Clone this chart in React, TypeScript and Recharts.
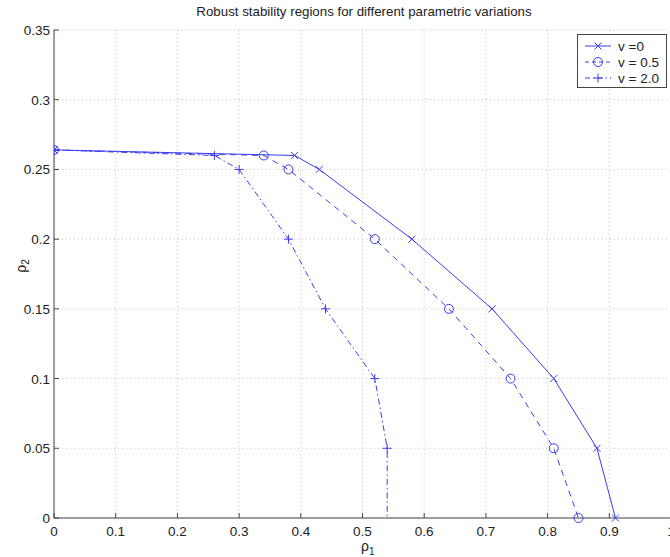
import React from 'react';
import { CartesianGrid, Line, LineChart, XAxis, YAxis } from 'recharts';

// rho_1 / rho_2 values
const rho1V0 = [0, 0.39, 0.43, 0.58, 0.71, 0.81, 0.88, 0.91];
const rho2V0 = [0.264, 0.26, 0.25, 0.2, 0.15, 0.1, 0.05, 0];

const rho1V05 = [0, 0.34, 0.38, 0.52, 0.64, 0.74, 0.81, 0.85];
const rho2V05 = [0.264, 0.26, 0.25, 0.2, 0.15, 0.1, 0.05, 0];

const rho1V2 = [0, 0.26, 0.3, 0.38, 0.44, 0.52, 0.54, 0.54];
const rho2V2 = [0.264, 0.26, 0.25, 0.2, 0.15, 0.1, 0.05, 0];

const xTicks = [0, 0.1, 0.2, 0.3, 0.4, 0.5, 0.6, 0.7, 0.8, 0.9, 1];
const yTicks = [0, 0.05, 0.1, 0.15, 0.2, 0.25, 0.3, 0.35];

const legendLabels = ['v =0', 'v = 0.5', 'v = 2.0'];

const BLUE = '#3c3cf0';
const AXIS = '#444';
const FONT = '"Liberation Sans", Arial, Helvetica, sans-serif';

const toPoints = (xs: number[], ys: number[]) => xs.map((x, i) => ({ x, y: ys[i] }));

type MarkerKind = 'x' | 'o' | '+';

function Marker({ kind, cx, cy }: { kind: MarkerKind; cx: number; cy: number }) {
  if (kind === 'o') return <circle cx={cx} cy={cy} r={4.5} fill="none" stroke={BLUE} strokeWidth={1} />;
  const s = kind === 'x' ? 3.5 : 4.5;
  if (kind === 'x')
    return (
      <g stroke={BLUE} strokeWidth={1}>
        <line x1={cx - s} y1={cy - s} x2={cx + s} y2={cy + s} />
        <line x1={cx - s} y1={cy + s} x2={cx + s} y2={cy - s} />
      </g>
    );
  return (
    <g stroke={BLUE} strokeWidth={1}>
      <line x1={cx - s} y1={cy} x2={cx + s} y2={cy} />
      <line x1={cx} y1={cy - s} x2={cx} y2={cy + s} />
    </g>
  );
}

const dotFor = (kind: MarkerKind, skipLast = false, count = 0) => (props: any) => {
  const { cx, cy, index } = props;
  if (skipLast && index === count - 1) return <g key={`d${kind}${index}`} />;
  return (
    <g key={`d${kind}${index}`}>
      <Marker kind={kind} cx={cx} cy={cy} />
    </g>
  );
};

const series = [
  { data: toPoints(rho1V0, rho2V0), kind: 'x' as MarkerKind, dash: undefined as string | undefined },
  { data: toPoints(rho1V05, rho2V05), kind: 'o' as MarkerKind, dash: '6 5' },
  { data: toPoints(rho1V2, rho2V2), kind: '+' as MarkerKind, dash: '6 3 1.5 3' },
];

const BottomTick = (props: any) => {
  const { x, y, payload } = props;
  return (
    <g>
      <line x1={x} y1={y} x2={x} y2={y - 5} stroke={AXIS} />
      <text x={x} y={y + 18} textAnchor="middle" fontSize={13.5} fontFamily={FONT} fill="#222">
        {payload.value}
      </text>
    </g>
  );
};

const TopTick = (props: any) => {
  const { x, y } = props;
  return <line x1={x} y1={y} x2={x} y2={y + 5} stroke={AXIS} />;
};

const LeftTick = (props: any) => {
  const { x, y, payload } = props;
  return (
    <g>
      <line x1={x} y1={y} x2={x + 5} y2={y} stroke={AXIS} />
      <text x={x - 4} y={y + 5} textAnchor="end" fontSize={13.5} fontFamily={FONT} fill="#222">
        {payload.value}
      </text>
    </g>
  );
};

function Legend() {
  return (
    <div
      style={{
        position: 'absolute',
        left: 577,
        top: 34,
        width: 88,
        height: 52,
        border: '1px solid #444',
        background: '#fff',
        fontFamily: FONT,
        fontSize: 13.5,
        color: '#222',
      }}
    >
      {series.map((s, i) => (
        <div key={i} style={{ position: 'absolute', left: 5, top: 3 + i * 16, height: 16, display: 'flex', alignItems: 'center' }}>
          <svg width={30} height={16}>
            <line x1={2} y1={8} x2={28} y2={8} stroke={BLUE} strokeDasharray={s.dash ? (i === 1 ? '4 3' : '5 3 1.5 3') : undefined} />
            <Marker kind={s.kind} cx={15} cy={8} />
          </svg>
          <span style={{ marginLeft: 5, whiteSpace: 'nowrap' }}>{legendLabels[i]}</span>
        </div>
      ))}
    </div>
  );
}

export default function App() {
  return (
    <div style={{ position: 'absolute', left: 0, top: 0, width: 670, height: 557, overflow: 'hidden', background: '#fff' }}>
      <div
        style={{
          position: 'absolute',
          left: 64,
          width: 600,
          top: 4,
          textAlign: 'center',
          fontFamily: FONT,
          fontSize: 13.3,
          color: '#222',
        }}
      >
        Robust stability regions for different parametric variations
      </div>
      <LineChart width={690} height={557} margin={{ top: 30, right: 19, bottom: 0, left: 0 }}>
        <CartesianGrid stroke="#c4c4c4" strokeDasharray="1 3" />
        <XAxis
          type="number"
          dataKey="x"
          domain={[0, 1]}
          ticks={xTicks}
          interval={0}
          height={39}
          tickSize={0}
          tickMargin={0}
          tickLine={false}
          stroke={AXIS}
          tick={<BottomTick />}
          allowDataOverflow
        />
        <XAxis
          xAxisId="top"
          orientation="top"
          type="number"
          dataKey="x"
          domain={[0, 1]}
          ticks={xTicks}
          interval={0}
          height={0}
          tickSize={0}
          tickMargin={0}
          tickLine={false}
          stroke={AXIS}
          tick={<TopTick />}
        />
        <YAxis
          type="number"
          domain={[0, 0.35]}
          ticks={yTicks}
          interval={0}
          width={54}
          tickSize={0}
          tickMargin={0}
          tickLine={false}
          stroke={AXIS}
          tick={<LeftTick />}
        />
        {series.map((s, i) => (
          <Line
            key={i}
            data={s.data}
            dataKey="y"
            type="linear"
            stroke={BLUE}
            strokeWidth={1}
            strokeDasharray={s.dash}
            dot={dotFor(s.kind, i === 2, s.data.length)}
            activeDot={false}
            isAnimationActive={false}
          />
        ))}
      </LineChart>
      <div
        style={{
          position: 'absolute',
          left: 361,
          top: 540,
          fontFamily: FONT,
          fontSize: 14,
          lineHeight: '13px',
          color: '#222',
        }}
      >
        ρ<sub style={{ fontSize: 10, lineHeight: '10px' }}>1</sub>
      </div>
      <div
        style={{
          position: 'absolute',
          left: 8,
          top: 266,
          transform: 'translate(-50%, -50%) rotate(-90deg)',
          transformOrigin: 'center',
          fontFamily: FONT,
          fontSize: 14,
          color: '#222',
          whiteSpace: 'nowrap',
          marginLeft: 14,
        }}
      >
        ρ<sub style={{ fontSize: 10 }}>2</sub>
      </div>
      <Legend />
    </div>
  );
}
